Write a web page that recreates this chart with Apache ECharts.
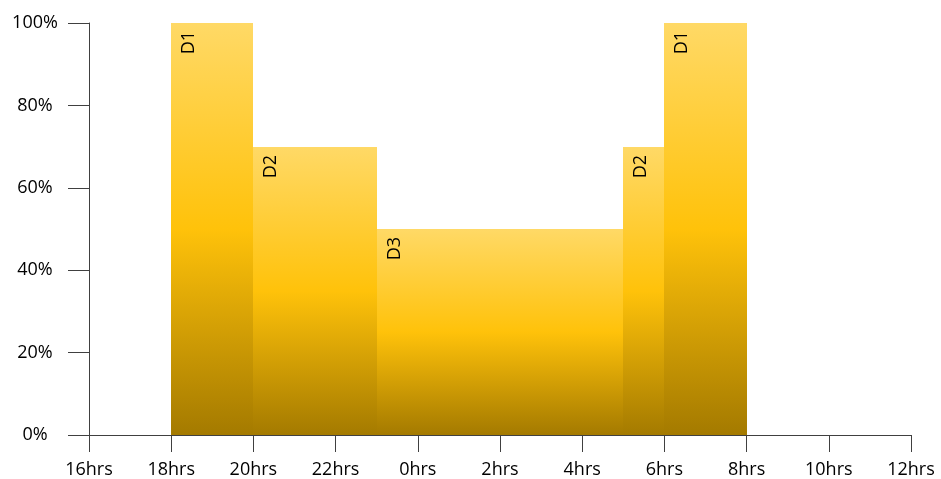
<!DOCTYPE html>
<html>
<head>
<meta charset="utf-8">
<script src="https://cdn.jsdelivr.net/npm/echarts@6/dist/echarts.min.js"></script>
<style>
  html, body { margin: 0; padding: 0; background: #fff; }
  #chart { width: 941px; height: 479px; }
</style>
</head>
<body>
<div id="chart"></div>
<script>
// Hours run from 16 (4 pm) to 36 (noon next day); 24 = midnight.
const tickLabels = ['16hrs', '18hrs', '20hrs', '22hrs', '0hrs', '2hrs', '4hrs', '6hrs', '8hrs', '10hrs', '12hrs'];
const bandStart = [18, 20, 23, 29, 30];
const bandEnd   = [20, 23, 29, 30, 32];
const bandLevel = [100, 70, 50, 70, 100];
const bandName  = ['D1', 'D2', 'D3', 'D2', 'D1'];

const data = bandStart.map((s, i) => [s, bandEnd[i], bandLevel[i], bandName[i]]);

const FONT = '"Open Sans", Lato, sans-serif';

const chart = echarts.init(document.getElementById('chart'), null, { renderer: 'canvas' });

chart.setOption({
  backgroundColor: '#ffffff',
  animation: false,
  grid: { left: 89, right: 30, top: 23, bottom: 44, containLabel: false },
  xAxis: {
    type: 'value',
    min: 16, max: 36, interval: 2,
    axisLine: { show: true, lineStyle: { color: '#404040', width: 1 } },
    axisTick: { show: true, length: 17, lineStyle: { color: '#404040', width: 1 } },
    splitLine: { show: false },
    axisLabel: {
      margin: 26,
      fontFamily: FONT, fontSize: 18, color: '#000',
      formatter: v => tickLabels[Math.round((v - 16) / 2)]
    }
  },
  yAxis: {
    type: 'value',
    min: 0, max: 100, interval: 20,
    axisLine: { show: true, lineStyle: { color: '#404040', width: 1 } },
    axisTick: { show: true, length: 21, lineStyle: { color: '#404040', width: 1 } },
    splitLine: { show: false },
    axisLabel: {
      margin: 54, align: 'center',
      fontFamily: FONT, fontSize: 18, color: '#000',
      formatter: v => v + '%'
    }
  },
  series: [{
    type: 'custom',
    data: data,
    encode: { x: [0, 1], y: 2 },
    z: 3,
    renderItem: function (params, api) {
      const topLeft = api.coord([api.value(0), api.value(2)]);
      const botRight = api.coord([api.value(1), 0]);
      // snap the band edges to whole pixels so neighbouring bands meet cleanly
      const x = Math.round(topLeft[0]), y = Math.round(topLeft[1]);
      const w = Math.round(botRight[0]) - x, h = Math.round(botRight[1]) - y;
      return {
        type: 'group',
        children: [
          {
            type: 'rect',
            shape: { x: x, y: y, width: w, height: h },
            style: {
              fill: new echarts.graphic.LinearGradient(0, 0, 0, 1, [
                { offset: 0, color: '#FFD966' },
                { offset: 0.5, color: '#FFC20A' },
                { offset: 1, color: '#A47A00' }
              ])
            }
          },
          {
            type: 'text',
            x: x + 18,
            y: y + 8,
            rotation: Math.PI / 2,
            style: {
              text: data[params.dataIndex][3],
              fontFamily: FONT, fontSize: 18, fill: '#000',
              align: 'right', verticalAlign: 'middle'
            }
          }
        ]
      };
    }
  }]
});
</script>
</body>
</html>
